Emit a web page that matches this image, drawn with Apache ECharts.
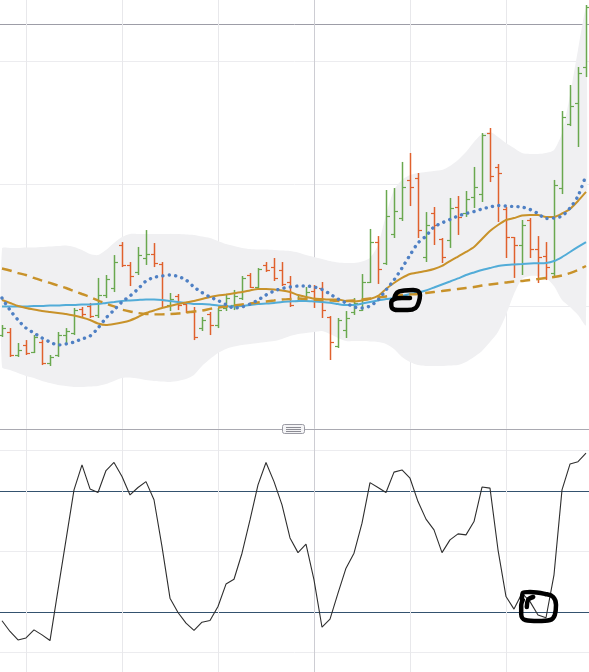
<!DOCTYPE html>
<html><head><meta charset="utf-8">
<script src="https://cdn.jsdelivr.net/npm/echarts@6/dist/echarts.min.js"></script>
<style>html,body{margin:0;padding:0;background:#fff}#c{width:589px;height:672px}</style>
</head><body><div id="c"></div>
<script>
// ---- OHLC data (price units) ----
const opens = [97.65,97.90,96.02,96.84,96.27,97.08,95.37,96.02,97.65,97.82,
99.78,100.02,99.29,100.92,101.49,105.00,103.37,102.80,103.94,104.27,
103.45,100.10,100.84,100.18,99.53,98.22,99.37,98.47,99.86,100.10,
100.67,102.55,101.57,103.37,103.20,102.96,101.98,100.43,100.59,101.24,
101.49,99.12,96.76,98.06,99.53,99.69,101.98,105.24,103.53,105.90,
107.20,110.31,110.47,104.02,107.61,105.49,105.41,108.10,107.61,108.92,
109.16,114.14,111.37,107.94,105.65,105.00,107.04,104.67,104.10,102.71,
109.65,114.88,116.59,119.53];
const highs = [98.47,98.22,97.00,97.24,97.65,97.24,96.02,97.90,98.22,99.86,
99.94,100.27,102.31,102.55,104.18,105.24,103.61,104.84,106.22,105.16,
103.61,101.08,101.00,100.35,99.94,99.12,99.53,99.86,100.92,101.33,
102.47,102.71,103.12,103.61,103.94,103.61,102.47,100.84,101.57,101.73,
101.98,99.20,99.04,99.61,100.67,102.63,106.31,105.73,109.49,109.65,
111.78,112.51,110.88,107.69,108.10,105.57,108.84,109.00,109.41,111.37,
114.14,114.55,111.61,108.10,105.65,107.04,107.20,105.73,105.24,110.31,
115.94,118.06,119.53,124.59];
const lows = [97.49,95.86,95.86,96.02,96.18,95.20,95.12,95.86,97.00,97.65,
99.04,99.04,99.04,100.67,101.16,103.20,101.65,102.55,103.37,103.20,
99.94,99.61,99.69,99.45,97.24,97.98,97.65,98.22,99.61,99.69,
100.51,101.49,101.49,102.80,102.06,101.65,99.94,100.35,100.51,99.86,
99.04,95.61,96.59,97.41,99.29,99.61,101.90,101.82,103.37,105.57,
106.96,108.18,105.57,103.61,105.00,103.53,104.76,105.82,107.29,108.02,
108.51,110.14,106.88,103.94,102.31,102.55,103.94,101.90,102.14,102.31,
109.16,114.71,113.00,118.71];
const closes = [98.22,96.02,96.43,96.18,97.49,95.37,95.86,97.65,97.98,99.69,
99.37,99.20,100.92,102.22,103.61,103.37,102.47,104.18,104.27,103.53,
100.51,100.59,100.10,99.61,97.49,98.88,98.47,99.69,100.67,100.84,
102.31,101.57,103.04,102.96,102.31,101.82,100.10,100.67,101.16,100.51,
99.69,97.08,98.88,99.04,100.27,101.98,105.24,103.04,107.37,107.78,
109.73,109.73,106.22,106.63,106.63,104.02,108.02,107.29,108.76,109.73,
113.98,110.63,110.88,105.65,105.00,106.63,104.67,104.02,103.20,109.90,
115.45,116.35,119.04,124.43];

// ---- indicator lines ----
const maSlow = [99.98,99.98,99.98,99.98,100.02,100.02,100.06,100.06,100.10,100.10,
100.14,100.14,100.18,100.27,100.35,100.43,100.47,100.51,100.55,100.55,
100.51,100.43,100.35,100.27,100.18,100.18,100.14,100.06,100.02,99.98,
100.02,100.10,100.18,100.22,100.27,100.35,100.39,100.43,100.43,100.39,
100.35,100.29,100.18,100.10,100.10,100.22,100.35,100.47,100.59,100.67,
100.84,101.00,101.12,101.29,101.53,101.78,102.02,102.27,102.55,102.76,
102.96,103.12,103.29,103.37,103.41,103.45,103.49,103.51,103.53,103.69,
104.02,104.43,104.84,105.24];
const maMid = [100.51,100.27,100.02,99.86,99.73,99.61,99.53,99.45,99.37,99.24,
99.08,98.88,98.59,98.47,98.55,98.67,98.84,99.12,99.45,99.65,
99.86,100.02,100.18,100.31,100.43,100.59,100.76,100.88,100.96,101.06,
101.16,101.29,101.41,101.41,101.37,101.29,101.16,100.92,100.76,100.63,
100.59,100.55,100.55,100.43,100.39,100.47,100.59,100.84,101.41,101.90,
102.31,102.63,102.76,102.88,103.04,103.29,103.69,104.06,104.43,104.84,
105.49,106.14,106.63,107.04,107.20,107.41,107.45,107.45,107.29,107.29,
107.57,107.94,108.59,109.33];
const maLong = [103.08,102.92,102.71,102.55,102.31,102.10,101.90,101.69,101.49,101.24,
101.00,100.76,100.47,100.22,99.98,99.73,99.57,99.45,99.37,99.34,
99.34,99.37,99.41,99.49,99.57,99.65,99.78,99.90,99.98,100.06,
100.14,100.22,100.31,100.39,100.47,100.55,100.59,100.63,100.59,100.55,
100.51,100.47,100.43,100.43,100.47,100.55,100.63,100.71,100.80,100.88,
100.92,100.96,101.00,101.08,101.16,101.24,101.33,101.41,101.49,101.57,
101.69,101.78,101.86,101.94,102.02,102.06,102.14,102.22,102.31,102.39,
102.51,102.71,102.96,103.29];
const fastCurve = [100.67,99.69,98.88,98.22,97.82,97.41,97.08,96.84,96.92,97.08,
97.33,97.57,98.22,99.04,99.69,100.35,100.84,101.41,102.06,102.35,
102.47,102.55,102.43,102.14,101.57,101.12,100.76,100.47,100.14,99.86,
99.94,100.18,100.51,100.92,101.24,101.45,101.57,101.65,101.65,101.57,
101.37,101.00,100.59,100.27,99.94,99.86,100.02,100.51,101.33,102.14,
103.12,104.18,105.16,105.73,106.47,106.80,107.08,107.37,107.57,107.73,
107.94,108.10,108.22,108.18,108.14,108.10,107.90,107.57,107.16,107.20,
107.37,108.02,109.00,110.71];
const bandUpper = [104.71,104.76,104.76,104.80,104.80,104.84,104.88,104.92,104.96,104.84,
104.59,104.27,104.18,104.59,105.16,105.65,105.90,105.90,105.90,105.90,
105.90,105.90,105.90,105.86,105.82,105.69,105.57,105.33,105.08,104.92,
104.76,104.67,104.63,104.63,104.59,104.55,104.51,104.39,104.18,104.02,
103.86,103.69,103.57,103.53,103.53,103.65,103.94,105.00,107.45,109.49,
110.31,110.71,110.88,110.96,111.04,111.12,111.45,111.94,112.59,113.41,
114.06,114.22,113.82,113.33,112.92,112.51,112.43,112.43,112.51,112.76,
114.14,117.24,120.92,124.18];
const bandLower = [95.04,94.80,94.55,94.31,94.14,93.90,93.73,93.57,93.49,93.41,
93.41,93.45,93.49,93.65,93.90,94.14,94.18,94.10,93.98,93.90,
93.86,93.82,93.90,94.06,94.39,95.12,95.69,96.18,96.51,96.71,
96.84,96.92,97.00,97.08,97.16,97.33,97.57,97.73,97.82,97.90,
97.98,97.73,97.41,97.16,97.16,97.16,97.12,97.08,96.92,96.51,
95.86,95.45,95.20,95.12,95.12,95.12,95.16,95.20,95.45,95.86,
96.35,97.08,97.90,99.29,101.00,102.22,102.47,102.47,102.31,101.65,
100.51,99.94,99.29,98.47];

// ---- oscillator ----
const stochK = [15.4,10.1,5.9,6.9,10.9,8.4,5.6,30.7,55.5,80.3,
92.7,80.8,79.0,89.9,93.9,86.9,77.8,81.5,84.4,75.4,
52.2,26.6,19.5,14.2,10.6,14.7,15.5,22.5,33.6,36.0,
48.9,65.4,82.8,93.9,84.4,72.9,56.5,49.2,53.4,35.7,
12.2,16.2,29.1,41.5,48.9,63.8,83.9,81.5,79.0,89.1,
90.2,86.1,74.5,65.8,60.5,49.2,55.5,58.5,58.0,64.6,
81.7,81.2,50.6,27.4,21.2,29.1,24.9,18.3,16.9,38.2,
80.3,93.1,94.3,98.5];
const stochBands = [20, 80];
const stochGrid = [0, 50, 100];
const priceGrid = [100, 110, 120];
const priceRefLevel = 123.04;
const timeGridIdx = [3, 15, 27, 51, 63];
const timeMarkIdx = 39;

// ---- freehand annotations (data coordinates) ----
const notePrice = [[49.0,100.55],[49.4,101.12],[50.3,101.29],[51.4,101.33],[52.0,101.24],[52.25,100.92],[52.1,100.35],[51.7,99.86],[50.7,99.69],[49.5,99.69],[48.75,99.86],[48.65,100.27],[49.0,100.59],[50.0,100.67],[51.0,100.67]];
const noteOscA = [[65.0,25.7],[65.1,29.2],[66.0,29.7],[67.9,28.7],[68.9,27.2],[69.25,23.2],[69.1,18.3],[68.5,15.8],[67.0,15.3],[65.4,15.8],[64.9,18.8],[64.9,23.2],[65.1,25.7]];
const noteOscB = [[65.6,22.2],[65.75,25.7],[66.4,27.2]];

const GREEN = '#6aa84f', RED = '#e0612d';
const XMIN = -0.25, XMAX = 73.375;
const xs = opens.map((_, i) => i);
const pair = arr => arr.map((v, i) => [xs[i], v]);

// grid lines drawn beneath everything through the axes' own scales
function gridRenderer(levels, levelColors, yMin, yMax) {
  return (params, api) => {
    const kids = [];
    levels.forEach((v, j) => {
      const p = api.coord([XMIN, v]);
      const y = Math.round(p[1]) + 0.5;
      kids.push({type: 'line', shape: {x1: 0, y1: y, x2: 589, y2: y}, style: {stroke: levelColors[j], lineWidth: levelColors[j] === '#34526f' ? 1.2 : 1}});
    });
    timeGridIdx.concat([timeMarkIdx]).forEach(i => {
      const a = api.coord([i, yMax]), b = api.coord([i, yMin]);
      const x = Math.round(a[0]) + 0.5;
      kids.push({type: 'line', shape: {x1: x, y1: a[1], x2: x, y2: b[1]}, style: {stroke: i === timeMarkIdx ? '#cdcdd3' : '#e8e8eb', lineWidth: 1}});
    });
    return {type: 'group', children: kids};
  };
}

const chart = echarts.init(document.getElementById('c'), null, {renderer: 'canvas'});
chart.setOption({
  animation: false,
  backgroundColor: '#ffffff',
  grid: [
    {left: 0, right: 0, top: 0, height: 428.75},
    {left: 0, right: 0, top: 430, height: 242}
  ],
  xAxis: [
    {gridIndex: 0, type: 'value', min: XMIN, max: XMAX, axisLabel: {show: false}, axisTick: {show: false},
      splitLine: {show: false}, axisLine: {show: true, onZero: false, lineStyle: {color: '#a9a9b1', width: 1}}, z: 10},
    {gridIndex: 1, type: 'value', min: XMIN, max: XMAX, show: false}
  ],
  yAxis: [
    {gridIndex: 0, type: 'value', min: 90, max: 125, show: false},
    {gridIndex: 1, type: 'value', min: -10, max: 110, show: false}
  ],
  graphic: [
    {type: 'rect', z: 100, shape: {x: 282.5, y: 424.5, width: 22, height: 9, r: 2}, style: {fill: '#f4f4f6', stroke: '#9a9aa3', lineWidth: 1}},
    {type: 'line', z: 101, shape: {x1: 286, y1: 427.5, x2: 301, y2: 427.5}, style: {stroke: '#8c8c94', lineWidth: 1}},
    {type: 'line', z: 101, shape: {x1: 286, y1: 429.5, x2: 301, y2: 429.5}, style: {stroke: '#8c8c94', lineWidth: 1}},
    {type: 'line', z: 101, shape: {x1: 286, y1: 431.5, x2: 301, y2: 431.5}, style: {stroke: '#8c8c94', lineWidth: 1}}
  ],
  series: [
    {type: 'custom', xAxisIndex: 0, yAxisIndex: 0, z: 0, silent: true, data: [0], clip: false,
      renderItem: gridRenderer(priceGrid.concat([priceRefLevel]), ['#ececef', '#ececef', '#ececef', '#9d9da7'], 90, 125)},
    {type: 'custom', xAxisIndex: 0, yAxisIndex: 0, z: 1, silent: true, data: [0],
      renderItem: (params, api) => {
        const pts = [];
        for (let i = 0; i < bandUpper.length; i++) pts.push(api.coord([xs[i], bandUpper[i]]));
        for (let i = bandLower.length - 1; i >= 0; i--) pts.push(api.coord([xs[i], bandLower[i]]));
        return {type: 'polygon', shape: {points: pts, smooth: 0.25}, style: {fill: '#f0f0f2'}};
      }},
    {type: 'custom', xAxisIndex: 0, yAxisIndex: 0, z: 3,
      data: opens.map((o, i) => [xs[i], o, highs[i], lows[i], closes[i]]),
      encode: {x: 0, y: [1, 2, 3, 4]},
      renderItem: (params, api) => {
        const x = api.value(0), o = api.value(1), h = api.value(2), l = api.value(3), c = api.value(4);
        const pH = api.coord([x, h]), pL = api.coord([x, l]), pO = api.coord([x, o]), pC = api.coord([x, c]);
        const col = c >= o ? GREEN : RED;
        const px = Math.round(pH[0]) + 0.5;
        return {type: 'group', children: [
          {type: 'line', shape: {x1: px, y1: pH[1], x2: px, y2: pL[1]}, style: {stroke: col, lineWidth: 1.5}},
          {type: 'line', shape: {x1: px - 3.5, y1: Math.round(pO[1]) + 0.5, x2: px, y2: Math.round(pO[1]) + 0.5}, style: {stroke: col, lineWidth: 1.2}},
          {type: 'line', shape: {x1: px, y1: Math.round(pC[1]) + 0.5, x2: px + 3.5, y2: Math.round(pC[1]) + 0.5}, style: {stroke: col, lineWidth: 1.2}}
        ]};
      }},
    {type: 'line', xAxisIndex: 0, yAxisIndex: 0, z: 4, data: pair(maSlow), symbol: 'none', smooth: 0.2,
      lineStyle: {color: '#52acd8', width: 2}},
    {type: 'line', xAxisIndex: 0, yAxisIndex: 0, z: 4, data: pair(maLong), symbol: 'none', smooth: 0.2,
      lineStyle: {color: '#c8922a', width: 2.4, type: [10, 6]}},
    {type: 'line', xAxisIndex: 0, yAxisIndex: 0, z: 5, data: pair(maMid), symbol: 'none', smooth: 0.2,
      lineStyle: {color: '#c8922a', width: 2}},
    {type: 'line', xAxisIndex: 0, yAxisIndex: 0, z: 6, data: pair(fastCurve), symbol: 'none', smooth: 0.3,
      lineStyle: {color: '#4f80c4', width: 3.4, type: [0.1, 6.3], cap: 'round'}},
    {type: 'line', xAxisIndex: 0, yAxisIndex: 0, z: 20, data: notePrice, symbol: 'none', smooth: 0.4, silent: true,
      lineStyle: {color: '#000', width: 4.5, cap: 'round', join: 'round'}},
    {type: 'custom', xAxisIndex: 1, yAxisIndex: 1, z: 0, silent: true, data: [0], clip: false,
      renderItem: gridRenderer(stochGrid.concat(stochBands), ['#ececef', '#ececef', '#ececef', '#34526f', '#34526f'], -10, 110)},
    {type: 'line', xAxisIndex: 1, yAxisIndex: 1, z: 4, data: pair(stochK), symbol: 'none',
      lineStyle: {color: '#2e2e2e', width: 1.1}},
    {type: 'line', xAxisIndex: 1, yAxisIndex: 1, z: 20, data: noteOscA, symbol: 'none', smooth: 0.4, silent: true,
      lineStyle: {color: '#000', width: 4.5, cap: 'round', join: 'round'}},
    {type: 'line', xAxisIndex: 1, yAxisIndex: 1, z: 20, data: noteOscB, symbol: 'none', smooth: 0.4, silent: true,
      lineStyle: {color: '#000', width: 4.5, cap: 'round', join: 'round'}}
  ]
});
</script>
</body></html>
